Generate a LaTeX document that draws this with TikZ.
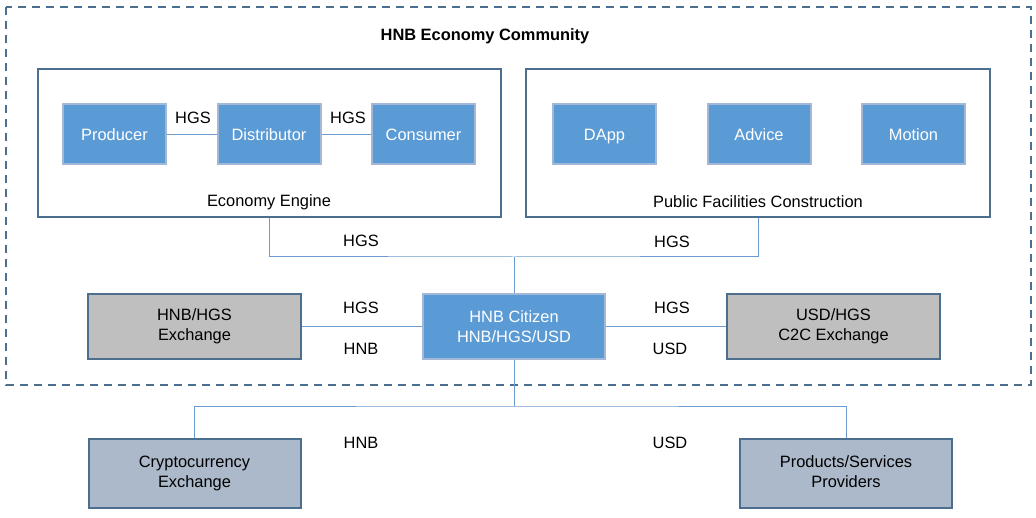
\documentclass[tikz,border=0pt]{standalone}
\usepackage{fontspec}
\setmainfont{Liberation Sans}
\usepackage{tikz}
\usetikzlibrary{positioning}
\definecolor{roleblue}{HTML}{5B9BD5}
\definecolor{roleedge}{HTML}{A3B8D6}
\definecolor{groupedge}{HTML}{4D6F8F}
\definecolor{linkblue}{HTML}{6C9BCF}
\definecolor{exgray}{HTML}{BFBFBF}
\definecolor{outgray}{HTML}{ACB9CA}
\tikzset{every picture/.style={line width=0.75pt}}

\begin{document}
\begin{tikzpicture}[x=1pt,y=-1pt,node distance=49.5pt,
    font=\fontsize{16.4}{20}\selectfont, align=center,
    tile/.style={draw=roleedge, line width=2pt, fill=roleblue, text=white, inner sep=0pt},
    role/.style={tile, minimum width=103pt, minimum height=60pt,
        text height=16pt, text depth=3pt},
    group/.style={draw=groupedge, line width=2pt},
    trade/.style={draw=groupedge, line width=2pt, fill=exgray,
        minimum width=213pt, minimum height=65pt, inner sep=0pt},
    outside/.style={draw=groupedge, line width=2pt, fill=outgray,
        minimum width=212pt, minimum height=69pt, inner sep=0pt},
    link/.style={draw=linkblue, line width=1pt},
    coin/.style={text=black, inner sep=0pt}]
        \useasboundingbox (0,0) rectangle (1036,518);
        \draw[groupedge, line width=2pt, dash pattern=on 8pt off 6pt] (6,7) rectangle (1031,385);
        \node[font=\fontsize{16.4}{20}\selectfont\bfseries] (title) at (485,36) {HNB Economy Community};

        % economy engine
        \node[group, minimum width=463pt, minimum height=148pt] (engine) at (269.5,143) {};
        \node[coin] (enginelbl) at (269,202) {Economy Engine};
        \node[role] (prod) at (114.5,134.5) {Producer};
        \node[role,right=of prod] (dist) {Distributor};
        \node[role,right=of dist] (cons) {Consumer};
        \node[coin] (g1) at (193,118) {HGS};
        \node[coin] (g2) at (348,118) {HGS};

        % public facilities
        \node[group, minimum width=464pt, minimum height=148pt] (facil) at (758,143) {};
        \node[coin] (facillbl) at (758,202) {Public Facilities Construction};
        \node[role] (dapp) at (604.5,134.5) {DApp};
        \node[role,right=of dapp] (advice) {Advice};
        \node[role,right=of advice] (motion) {Motion};

        % citizen and exchanges
        \node[tile, minimum width=182pt, minimum height=65pt] (citizen) at (514,326.5) {HNB Citizen\\HNB/HGS/USD};
        \node[trade] (hnbex) at (194.5,326.5) {HNB/HGS\\Exchange};
        \node[trade] (usdex) at (833.5,326.5) {USD/HGS\\C2C Exchange};
        \node[outside] (crypto) at (194.5,473.5) {\strut Cryptocurrency\\Exchange\strut};
        \node[outside] (market) at (846,473.5) {\strut Products/Services\\Providers\strut};

        \coordinate (hub) at (514,257);
        \coordinate (split) at (514,406);

        \draw[link]
            (prod) -- (dist)
            (dist) -- (cons)
            (engine.south) |- (hub) -| (facil.south)
            (hub) -- (citizen)
            (hnbex) -- (citizen)
            (citizen) -- (usdex)
            (citizen) -- (split)
            (crypto.north) |- (split) -| (market.north);

        \node[coin] (g3) at (361,241) {HGS};
        \node[coin] (g4) at (672,242) {HGS};
        \node[coin] (g5) at (361,308) {HGS};
        \node[coin] (n1) at (361,349) {HNB};
        \node[coin] (g6) at (672,308) {HGS};
        \node[coin] (u1) at (670,349) {USD};
        \node[coin] (n2) at (361,443) {HNB};
        \node[coin] (u2) at (670,443) {USD};
    \end{tikzpicture}
\end{document}
